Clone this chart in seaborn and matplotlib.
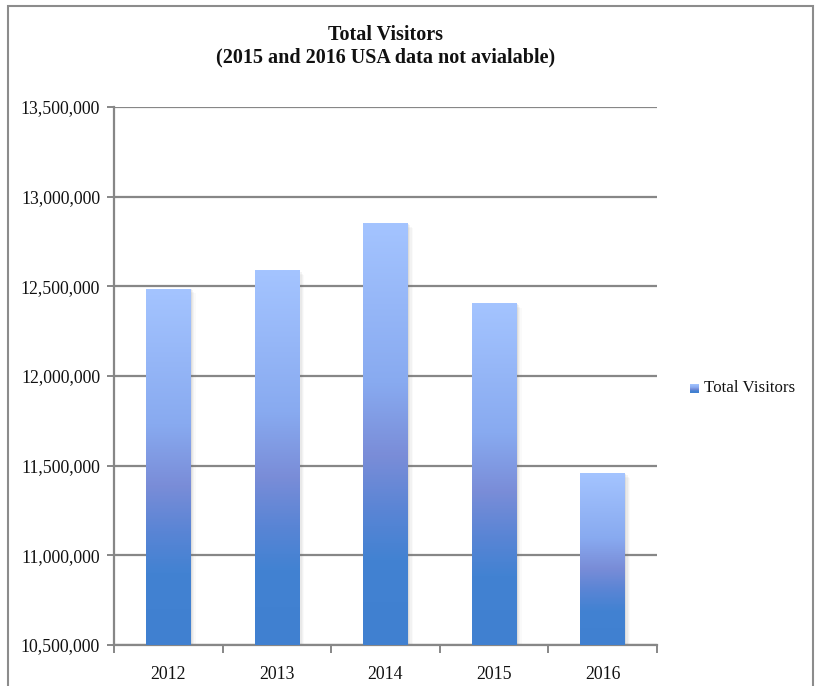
import numpy as np
import pandas as pd
import matplotlib
matplotlib.use("Agg")
import matplotlib.pyplot as plt
from matplotlib.colors import LinearSegmentedColormap
from matplotlib.patches import Rectangle
import matplotlib.ticker as mticker
import seaborn as sns

years = ["2012", "2013", "2014", "2015", "2016"]
visitors = [12485000, 12586000, 12848000, 12402000, 11454000]
series_name = "Total Visitors"
title_text = "Total Visitors\n(2015 and 2016 USA data not avialable)"
y_ticks = [10500000, 11000000, 11500000, 12000000, 12500000, 13000000, 13500000]

sns.set_theme(style="white")
plt.rcParams["font.family"] = ["Liberation Serif", "DejaVu Serif"]

df = pd.DataFrame({"Year": years, "Visitors": visitors})

fig = plt.figure(figsize=(8.19, 6.86), dpi=100)
ax = fig.add_axes([114 / 819, 1 - 645 / 686, (657 - 114) / 819, (645 - 107) / 686])

sns.barplot(data=df, x="Year", y="Visitors", ax=ax, width=0.41,
            color="#8DB0F5", edgecolor="none", zorder=3)

ymin, ymax = y_ticks[0], y_ticks[-1]
ax.set_ylim(ymin, ymax)
ax.set_xlim(-0.5, len(years) - 0.5)

# vertical gradient fill, light at the top of each bar, deep blue at its base
grad = LinearSegmentedColormap.from_list(
    "bar_grad",
    [(0.0, "#4080D0"), (0.2, "#4282D2"), (0.32, "#5A85D5"),
     (0.45, "#7A8DD8"), (0.62, "#88AAF0"), (1.0, "#A4C4FF")])
ramp = np.linspace(0, 1, 256).reshape(-1, 1)
for patch in list(ax.patches):
    x0 = patch.get_x()
    w = patch.get_width()
    y0 = patch.get_y()
    h = patch.get_height()
    # soft shadow to the right
    for i, a in enumerate([0.10, 0.07, 0.05, 0.03]):
        sh = Rectangle((x0 + w, y0), 0.012 * (i + 1), h - 8000 * i,
                       facecolor="#707070", alpha=a, edgecolor="none", zorder=2)
        ax.add_patch(sh)
    ax.imshow(ramp, cmap=grad, origin="lower", aspect="auto",
              extent=(x0, x0 + w, ymin, y0 + h), zorder=4)
    patch.set_alpha(0)

ax.set_xlim(-0.5, len(years) - 0.5)
ax.set_ylim(ymin, ymax)

ax.set_yticks(y_ticks)
ax.yaxis.set_major_formatter(mticker.FuncFormatter(lambda v, p: f"{int(v):,}"))
ax.grid(axis="y", color="#878787", linewidth=1.6, zorder=1)
ax.set_axisbelow(True)

for s in ["top", "right"]:
    ax.spines[s].set_visible(False)
ax.spines["left"].set_color("#878787")
ax.spines["left"].set_linewidth(1.6)
ax.spines["bottom"].set_color("#878787")
ax.spines["bottom"].set_linewidth(1.6)

ax.set_xlabel("")
ax.set_ylabel("")
ax.tick_params(axis="y", which="major", left=True, length=5, width=1.4,
               color="#878787", labelsize=12.8, pad=5, labelcolor="#111111")
ax.tick_params(axis="x", which="major", bottom=False, labelsize=12.8, pad=9,
               labelcolor="#111111")
ax.set_xticks(range(len(years)))
ax.set_xticklabels(years)
ax.set_xticks(np.arange(-0.5, len(years)), minor=True)
ax.tick_params(axis="x", which="minor", bottom=True, length=6, width=1.4,
               color="#878787")

fig.text(386 / 819, 1 - 46 / 686, title_text, ha="center", va="center",
         fontsize=14.5, fontweight="bold", color="#111111", linespacing=1.2)

# legend
leg_ax = fig.add_axes([690 / 819, 1 - 393 / 686, 9 / 819, 9 / 686])
leg_ax.imshow(ramp, cmap=grad, origin="lower", aspect="auto", extent=(0, 1, 0, 1))
leg_ax.set_axis_off()
fig.text(704 / 819, 1 - 388 / 686, series_name, ha="left", va="center",
         fontsize=12.2, color="#111111")

# chart frame
frame = Rectangle((8 / 819, -0.01), (813 - 8) / 819, (680) / 686 + 0.01,
                  transform=fig.transFigure, fill=False,
                  edgecolor="#8C8C8C", linewidth=1.5)
fig.patches.append(frame)

fig.savefig("out.png", dpi=100)
